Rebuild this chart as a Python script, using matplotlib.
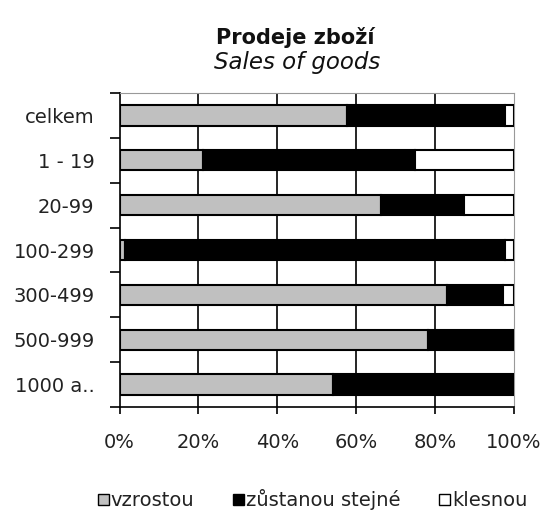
import matplotlib
matplotlib.use("Agg")
import matplotlib.pyplot as plt
from matplotlib.patches import Patch
import numpy as np

plt.rcParams['font.family'] = ['DejaVu Sans']

categories = ["celkem", "1 - 19", "20-99", "100-299", "300-499", "500-999", "1000 a.."]
vzrostou = [57.7, 21.2, 66.3, 1.5, 83.1, 78.2, 54.0]
zustanou = [40.0, 53.7, 21.1, 96.2, 14.2, 21.8, 46.0]
klesnou = [2.3, 25.1, 12.6, 2.3, 2.7, 0.0, 0.0]
series_names = ["vzrostou", "zůstanou stejné", "klesnou"]
xticks = [0, 20, 40, 60, 80, 100]
xticklabels = ["0%", "20%", "40%", "60%", "80%", "100%"]

fig = plt.figure(figsize=(5.44, 5.14), dpi=100)
ax = fig.add_axes([119.5/544, 1-407/514, (514-119.5)/544, (407-93)/514])

y = np.arange(len(categories))
h = 0.45
colors = ["#c0c0c0", "#000000", "#ffffff"]
left = np.zeros(len(categories))
for vals, c in zip([vzrostou, zustanou, klesnou], colors):
    vals = np.array(vals)
    ax.barh(y, vals, left=left, height=h, color=c, edgecolor="black", linewidth=1.5, zorder=3)
    left += vals

ax.set_xlim(0, 100)
ax.set_ylim(len(categories) - 0.5, -0.5)
for gx in [20, 40, 60, 80]:
    ax.axvline(gx, color="black", linewidth=1.2, zorder=1)

ax.set_xticks(xticks)
ax.set_xticklabels(xticklabels, fontsize=14, color="#222222")
ax.set_yticks(y)
ax.set_yticklabels(categories, fontsize=14, color="#222222")
ax.set_yticks(np.arange(len(categories) + 1) - 0.5, minor=True)
ax.tick_params(axis="y", which="major", length=0, pad=18)
ax.tick_params(axis="y", which="minor", length=7, width=1.2, direction="out", color="black")
ax.tick_params(axis="x", which="major", length=5, width=1.2, direction="out", pad=14, color="black")

for s in ["left", "bottom"]:
    ax.spines[s].set_color("black")
    ax.spines[s].set_linewidth(1.2)
for s in ["top", "right"]:
    ax.spines[s].set_color("#999999")
    ax.spines[s].set_linewidth(0.8)

fig.text(0.543, 1-37/514, "Prodeje zboží", ha="center", va="center", fontsize=15, fontweight="bold", color="#111111")
fig.text(0.547, 1-62/514, "Sales of goods", ha="center", va="center", fontsize=16.5, fontstyle="italic", color="#111111")

handles = [Patch(facecolor=c, edgecolor="black", linewidth=1.0) for c in colors]
fig.legend(handles, series_names, loc="center", bbox_to_anchor=(0.575, 1-500/514), ncol=3,
           frameon=False, fontsize=14, handlelength=0.55, handleheight=0.55,
           handletextpad=0.1, columnspacing=2.0, labelcolor="#222222")

fig.savefig("out.png", dpi=100, facecolor="white")
